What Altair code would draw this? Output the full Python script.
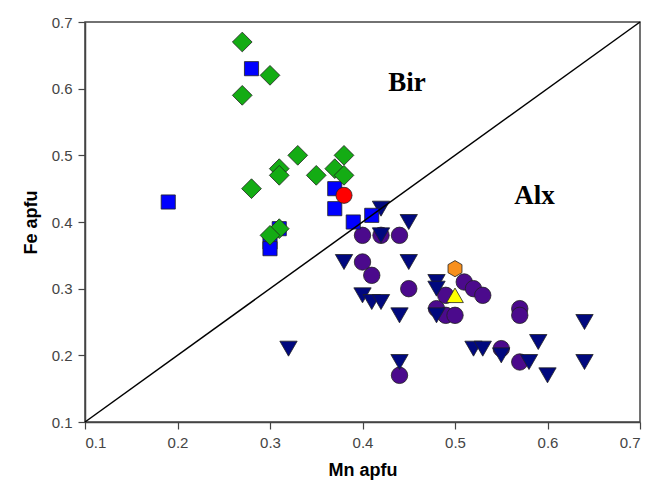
import altair as alt
import pandas as pd

# ---- data ----
green_x = [0.27, 0.30, 0.27, 0.33, 0.38, 0.31, 0.37, 0.31, 0.35, 0.38, 0.28, 0.31, 0.30]
green_y = [0.67, 0.62, 0.59, 0.50, 0.50, 0.48, 0.48, 0.47, 0.47, 0.47, 0.45, 0.39, 0.38]

blue_x = [0.28, 0.19, 0.37, 0.37, 0.39, 0.41, 0.31, 0.30, 0.30]
blue_y = [0.63, 0.43, 0.45, 0.42, 0.40, 0.41, 0.39, 0.37, 0.36]

purple_x = [0.40, 0.42, 0.44, 0.40, 0.41, 0.45, 0.44, 0.48, 0.49, 0.49, 0.50, 0.51, 0.52, 0.53, 0.57, 0.57, 0.55, 0.57]
purple_y = [0.38, 0.38, 0.38, 0.34, 0.32, 0.30, 0.17, 0.27, 0.29, 0.26, 0.26, 0.31, 0.30, 0.29, 0.27, 0.26, 0.21, 0.19]

navy_x = [0.42, 0.45, 0.42, 0.38, 0.45, 0.40, 0.41, 0.42, 0.44, 0.44, 0.48, 0.48, 0.48, 0.52, 0.53, 0.55, 0.59, 0.58, 0.60, 0.64, 0.64, 0.32]
navy_y = [0.42, 0.40, 0.38, 0.34, 0.34, 0.29, 0.28, 0.28, 0.26, 0.19, 0.31, 0.30, 0.26, 0.21, 0.21, 0.20, 0.22, 0.19, 0.17, 0.25, 0.19, 0.21]

red_x = [0.38]
red_y = [0.44]
orange_x = [0.50]
orange_y = [0.33]
yellow_x = [0.50]
yellow_y = [0.29]

ref_line = [0.1, 0.7]
tick_values = [0.1, 0.2, 0.3, 0.4, 0.5, 0.6, 0.7]

label_text = ["Bir", "Alx"]
label_x = [0.448, 0.586]
label_y = [0.596, 0.4265]

# ---- chart ----
x_scale = alt.Scale(domain=[0.1, 0.7], nice=False, zero=False)
y_scale = alt.Scale(domain=[0.1, 0.7], nice=False, zero=False)
x_axis = alt.Axis(values=tick_values, format=".1f", title="Mn apfu", grid=False)
y_axis = alt.Axis(values=tick_values, format=".1f", title="Fe apfu", grid=False)


def layer(xs, ys, shape, fill, size):
    df = pd.DataFrame({"x": xs, "y": ys})
    return alt.Chart(df).mark_point(
        shape=shape, filled=True, fill=fill, fillOpacity=1,
        stroke="#222222", strokeWidth=0.8, size=size, opacity=1
    ).encode(
        x=alt.X("x:Q", scale=x_scale, axis=x_axis),
        y=alt.Y("y:Q", scale=y_scale, axis=y_axis),
    )


hexagon = "M0,-1L0.866,-0.5L0.866,0.5L0,1L-0.866,0.5L-0.866,-0.5Z"

purple = layer(purple_x, purple_y, "circle", "#4B0A8C", 270)
navy = layer(navy_x, navy_y, "triangle-down", "#00087E", 300)
blue = layer(blue_x, blue_y, "square", "#0000FF", 200)
green = layer(green_x, green_y, "diamond", "#14AC14", 390)
red = layer(red_x, red_y, "circle", "#FF0000", 260)
orange = layer(orange_x, orange_y, hexagon, "#F7901E", 260)
yellow = layer(yellow_x, yellow_y, "triangle-up", "#FFFF00", 280)

line_df = pd.DataFrame({"x": ref_line, "y": ref_line})
line = alt.Chart(line_df).mark_line(color="#000000", strokeWidth=1.5).encode(
    x=alt.X("x:Q", scale=x_scale, axis=x_axis),
    y=alt.Y("y:Q", scale=y_scale, axis=y_axis),
)

text_df = pd.DataFrame({"x": label_x, "y": label_y, "t": label_text})
texts = alt.Chart(text_df).mark_text(
    font="Liberation Serif", fontWeight="bold", fontSize=27, color="#000000",
    align="center", baseline="alphabetic"
).encode(
    x=alt.X("x:Q", scale=x_scale, axis=x_axis),
    y=alt.Y("y:Q", scale=y_scale, axis=y_axis),
    text="t:N",
)

chart = alt.layer(
    purple, navy, blue, green, red, orange, yellow, line, texts
).properties(
    width=555, height=400,
    padding={"left": 85, "top": 22, "right": 13, "bottom": 68},
    autosize=alt.AutoSizeParams(type="none"),
).configure_view(
    stroke="#444444", strokeWidth=1.5
).configure_axis(
    labelFont="Liberation Sans", labelFontSize=15, labelColor="#444444",
    titleFont="Liberation Sans", titleFontSize=18, titleFontWeight="bold", titleColor="#000000",
    domainColor="#444444", domainWidth=1.5, tickColor="#444444", tickWidth=1.2,
    tickSize=7, labelPadding=6,
).configure_axisX(
    titlePadding=11
).configure_axisY(
    titlePadding=11
)

chart.save("out.html", embed_options={"renderer": "svg", "actions": False})
